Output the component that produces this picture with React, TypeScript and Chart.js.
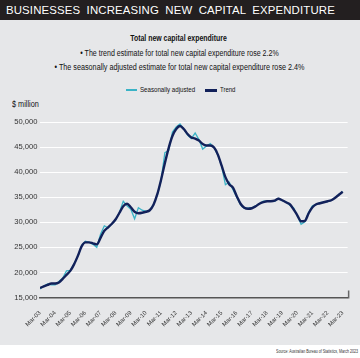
import React, { useEffect, useRef } from "react";
import { Chart, registerables } from "chart.js";
Chart.register(...registerables);

const tickLabels = ["Mar-03","Mar-04","Mar-05","Mar-06","Mar-07","Mar-08","Mar-09","Mar-10","Mar-11","Mar-12","Mar-13","Mar-14","Mar-15","Mar-16","Mar-17","Mar-18","Mar-19","Mar-20","Mar-21","Mar-22","Mar-23"];

const trend = [
  16900, 17200, 17500, 17800, 17800, 18000, 18700, 19500,
  20300, 21600, 23300, 25200, 26000, 26000, 25800, 25600,
  26900, 28300, 29000, 29700, 30600, 31900, 33200, 33700,
  33000, 32100, 31800, 31900, 32100, 32400, 33500, 35600,
  38500, 41800, 44800, 47200, 48600, 49200, 48600, 47600,
  46900, 46700, 46300, 45600, 45300, 45300, 44900, 43500,
  41300, 39000, 37600, 36900, 35200, 33700, 32900, 32700,
  32800, 33200, 33700, 34000, 34200, 34200, 34300, 34700,
  34400, 34000, 33600, 32600, 31400, 30200, 30300, 31800,
  33000, 33600, 33800, 34000, 34200, 34400, 34900, 35500,
  36100,
];

const seasonallyAdjusted = [
  16700, 17300, 17700, 17500, 17500, 18200, 18900, 20300,
  20400, 21700, 23200, 25400, 26200, 26000, 25600, 25000,
  27600, 29300, 28900, 29700, 30500, 32000, 34200, 33300,
  32600, 30700, 32900, 32400, 32200, 32400, 33600, 35400,
  38400, 43900, 44300, 48000, 49000, 49600, 48600, 47400,
  46700, 47800, 46500, 44600, 45200, 45700, 44900, 43400,
  41200, 37500, 38000, 36500, 35000, 33500, 32800, 32800,
  32900, 33300, 33700, 34200, 34200, 34300, 34200, 34800,
  34300, 34100, 33400, 32900, 31300, 29600, 30100, 32000,
  33300, 33500, 33900, 34000, 34100, 34400, 34900, 35600,
  36100,
];

const yTicks = [15000, 20000, 25000, 30000, 35000, 40000, 45000, 50000];

const SANS = "'Liberation Sans', Arial, sans-serif";
const TEAL = "#3ab3c6";
const NAVY = "#12215a";

export default function App() {
  const ref = useRef<HTMLCanvasElement | null>(null);

  useEffect(() => {
    if (!ref.current) return;
    const endTick = {
      id: "endTick",
      afterDraw(chart: any) {
        const { ctx, chartArea } = chart;
        ctx.save();
        ctx.strokeStyle = "#666";
        ctx.lineWidth = 1.5;
        ctx.beginPath();
        ctx.moveTo(chartArea.right + 1, chartArea.bottom - 7);
        ctx.lineTo(chartArea.right + 1, chartArea.bottom + 1);
        ctx.stroke();
        ctx.restore();
      },
    };
    const chart = new Chart(ref.current, {
      type: "line",
      data: {
        datasets: [
          {
            label: "Seasonally adjusted",
            data: seasonallyAdjusted.map((v, i) => ({ x: i, y: v })),
            borderColor: TEAL,
            borderWidth: 1.3,
            pointRadius: 0,
            tension: 0,
            order: 2,
          },
          {
            label: "Trend",
            data: trend.map((v, i) => ({ x: i, y: v })),
            borderColor: NAVY,
            borderWidth: 2.4,
            pointRadius: 0,
            cubicInterpolationMode: "monotone",
            order: 1,
          },
        ],
      },
      options: {
        animation: false,
        responsive: false,
        maintainAspectRatio: false,
        layout: { padding: { top: 42, right: 12, left: 0, bottom: 0 } },
        plugins: { legend: { display: false }, tooltip: { enabled: false } },
        scales: {
          x: {
            type: "linear",
            min: 0,
            max: 81.3,
            afterBuildTicks: (s: any) => {
              s.ticks = tickLabels.map((_, i) => ({ value: i * 4 }));
            },
            afterFit: (s: any) => {
              s.height = 47.5;
            },
            grid: { display: false, drawTicks: false },
            border: { display: true, color: "#555", width: 1.5 },
            ticks: {
              autoSkip: false,
              maxRotation: 45,
              minRotation: 45,
              padding: 12,
              color: "#333",
              font: { family: SANS, size: 6 },
              callback: (v: any) => tickLabels[Math.round(Number(v) / 4)],
            },
          },
          y: {
            min: 15000,
            max: 50000,
            afterBuildTicks: (s: any) => {
              s.ticks = yTicks.map((v) => ({ value: v }));
            },
            afterFit: (s: any) => {
              s.width = 40;
            },
            grid: { color: "#ffffff", lineWidth: 1, drawTicks: false },
            border: { display: false },
            ticks: {
              padding: 2.5,
              color: "#333",
              font: { family: SANS, size: 7.6 },
              callback: (v: any) => Number(v).toLocaleString("en-US"),
            },
          },
        },
      },
      plugins: [endTick],
    } as any);
    return () => chart.destroy();
  }, []);

  const txt = (extra: React.CSSProperties): React.CSSProperties => ({
    position: "absolute",
    whiteSpace: "nowrap",
    fontFamily: SANS,
    color: "#111",
    ...extra,
  });

  return (
    <div style={{ position: "absolute", left: 0, top: 0, width: 360, height: 358, background: "#ffffff", overflow: "hidden" }}>
      <div style={{ position: "absolute", left: 0, top: 0, width: 360, height: 345, background: "#e6e7e9" }} />
      <div style={{ position: "absolute", left: 0, top: 0, width: 360, height: 20, background: "#231f20" }} />
      <div style={txt({ left: 6, top: 3, fontSize: 11.4, lineHeight: "14px", color: "#fff", letterSpacing: 0.15, wordSpacing: 3 })}>
        BUSINESSES INCREASING NEW CAPITAL EXPENDITURE
      </div>
      <div style={txt({ left: 0, width: 357, textAlign: "center", top: 32, fontSize: 9, lineHeight: "12px", fontWeight: "bold", transform: "scaleX(0.77)", transformOrigin: "178.5px 0" })}>
        Total new capital expenditure
      </div>
      <div style={txt({ left: 0, width: 359, textAlign: "center", top: 47, fontSize: 8.3, lineHeight: "12px", transform: "scaleX(0.85)", transformOrigin: "179.5px 0" })}>
        • The trend estimate for total new capital expenditure rose 2.2%
      </div>
      <div style={txt({ left: 0, width: 359, textAlign: "center", top: 60.5, fontSize: 8.3, lineHeight: "12px", transform: "scaleX(0.87)", transformOrigin: "179.5px 0" })}>
        • The seasonally adjusted estimate for total new capital expenditure rose 2.4%
      </div>
      <div style={{ position: "absolute", left: 126, top: 89, width: 11, height: 2, background: TEAL }} />
      <div style={txt({ left: 140, top: 84, fontSize: 7.5, lineHeight: "12px", transform: "scaleX(0.82)", transformOrigin: "0 0" })}>Seasonally adjusted</div>
      <div style={{ position: "absolute", left: 205, top: 89, width: 12, height: 2.5, background: NAVY }} />
      <div style={txt({ left: 220, top: 84, fontSize: 7.5, lineHeight: "12px", transform: "scaleX(0.8)", transformOrigin: "0 0" })}>Trend</div>
      <div style={txt({ left: 12, top: 98, fontSize: 8.5, lineHeight: "12px", transform: "scaleX(0.86)", transformOrigin: "0 0" })}>$ million</div>
      <div style={txt({ right: 2, top: 348, fontSize: 4.6, lineHeight: "7px", color: "#333", transform: "scaleX(0.78)", transformOrigin: "100% 0" })}>
        Source: Australian Bureau of Statistics, March 2023
      </div>
      <canvas ref={ref} width={360} height={265} style={{ position: "absolute", left: 0, top: 80, width: 360, height: 265 }} />
    </div>
  );
}
